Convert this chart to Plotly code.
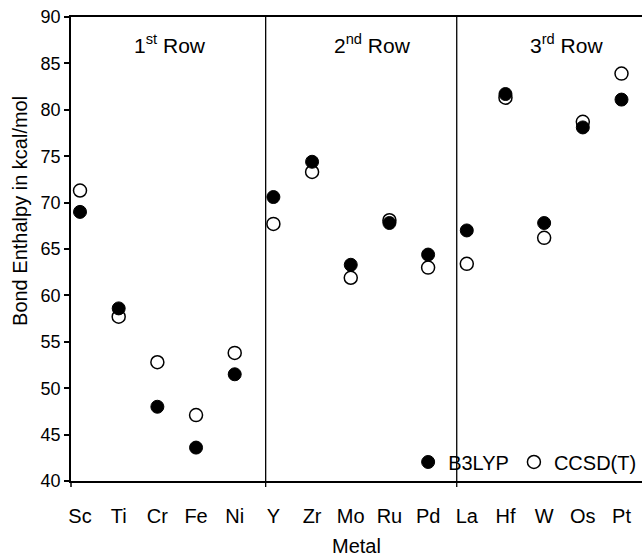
import numpy as np
import plotly.graph_objects as go

metals = ["Sc", "Ti", "Cr", "Fe", "Ni", "Y", "Zr", "Mo", "Ru", "Pd", "La", "Hf", "W", "Os", "Pt"]
b3lyp = [69.0, 58.6, 48.0, 43.6, 51.5, 70.6, 74.4, 63.3, 67.8, 64.4, 67.0, 81.7, 67.8, 78.1, 81.1]
ccsdt = [71.3, 57.7, 52.8, 47.1, 53.8, 67.7, 73.3, 61.9, 68.1, 63.0, 63.4, 81.3, 66.2, 78.7, 83.9]
row_labels = ["1<sup>st</sup> Row", "2<sup>nd</sup> Row", "3<sup>rd</sup> Row"]
row_label_x = [2.33, 7.55, 12.59]
dividers = [4.8, 9.74]
y_ticks = list(range(40, 91, 5))

xpos = np.arange(len(metals))
FONT = "Liberation Sans, Arial, sans-serif"
XMIN, XMAX = -0.233, 14.53

fig = go.Figure()
fig.add_trace(go.Scatter(
    x=xpos, y=ccsdt, mode="markers", name="CCSD(T)",
    marker=dict(symbol="circle", size=13, color="white", line=dict(color="black", width=1.5)),
    legendrank=2,
))
fig.add_trace(go.Scatter(
    x=xpos, y=b3lyp, mode="markers", name="B3LYP",
    marker=dict(symbol="circle", size=13, color="black", line=dict(color="black", width=1)),
    legendrank=1,
))

shapes = []
for d in dividers:
    shapes.append(dict(type="line", xref="x", yref="paper", x0=d, x1=d, y0=-6/464, y1=1,
                       line=dict(color="black", width=1.3)))
shapes.append(dict(type="line", xref="paper", yref="paper", x0=0, x1=0, y0=-6/464, y1=0,
                   line=dict(color="black", width=1.5)))

annotations = []
for t, xv in zip(row_labels, row_label_x):
    annotations.append(dict(text=t, x=xv, y=87.1, xref="x", yref="y", showarrow=False,
                            font=dict(family=FONT, size=21, color="black")))
annotations.append(dict(text="Bond Enthalpy in kcal/mol", textangle=-90, xref="paper", yref="paper",
                        x=-0.0893, y=0.582, showarrow=False, xanchor="center", yanchor="middle",
                        font=dict(family=FONT, size=20, color="black")))
annotations.append(dict(text="Metal", xref="paper", yref="paper", x=0.5, y=-0.1400,
                        showarrow=False, xanchor="center", yanchor="middle",
                        font=dict(family=FONT, size=20, color="black")))

fig.update_layout(
    width=642, height=556,
    margin=dict(l=71, r=0, t=17, b=75),
    paper_bgcolor="white", plot_bgcolor="white",
    font=dict(family=FONT, color="black"),
    showlegend=True,
    legend=dict(orientation="h", x=0.9985, xanchor="right", y=0.041, yanchor="middle",
                bgcolor="rgba(0,0,0,0)", font=dict(family=FONT, size=20, color="black"),
                itemsizing="trace", traceorder="normal"),
    xaxis=dict(range=[XMIN, XMAX], tickmode="array", tickvals=xpos, ticktext=metals,
               ticks="outside", ticklen=16, tickcolor="rgba(0,0,0,0)",
               showline=True, linecolor="black", linewidth=1.5, mirror=True,
               showgrid=False, zeroline=False, tickfont=dict(family=FONT, size=20, color="black")),
    yaxis=dict(range=[40, 90], tickmode="array", tickvals=y_ticks,
               ticks="outside", ticklen=5, tickwidth=1.5, tickcolor="black",
               showline=True, linecolor="black", linewidth=1.5, mirror=False,
               showgrid=False, zeroline=False, tickfont=dict(family=FONT, size=18, color="black")),
    yaxis2=dict(range=[40, 90], overlaying="y", side="right", anchor="x", tickmode="array",
                tickvals=y_ticks, ticks="inside", ticklen=3, tickcolor="#bbbbbb",
                showticklabels=False, showline=False, showgrid=False, zeroline=False),
    shapes=shapes,
    annotations=annotations,
)

fig.write_html("out.html")
